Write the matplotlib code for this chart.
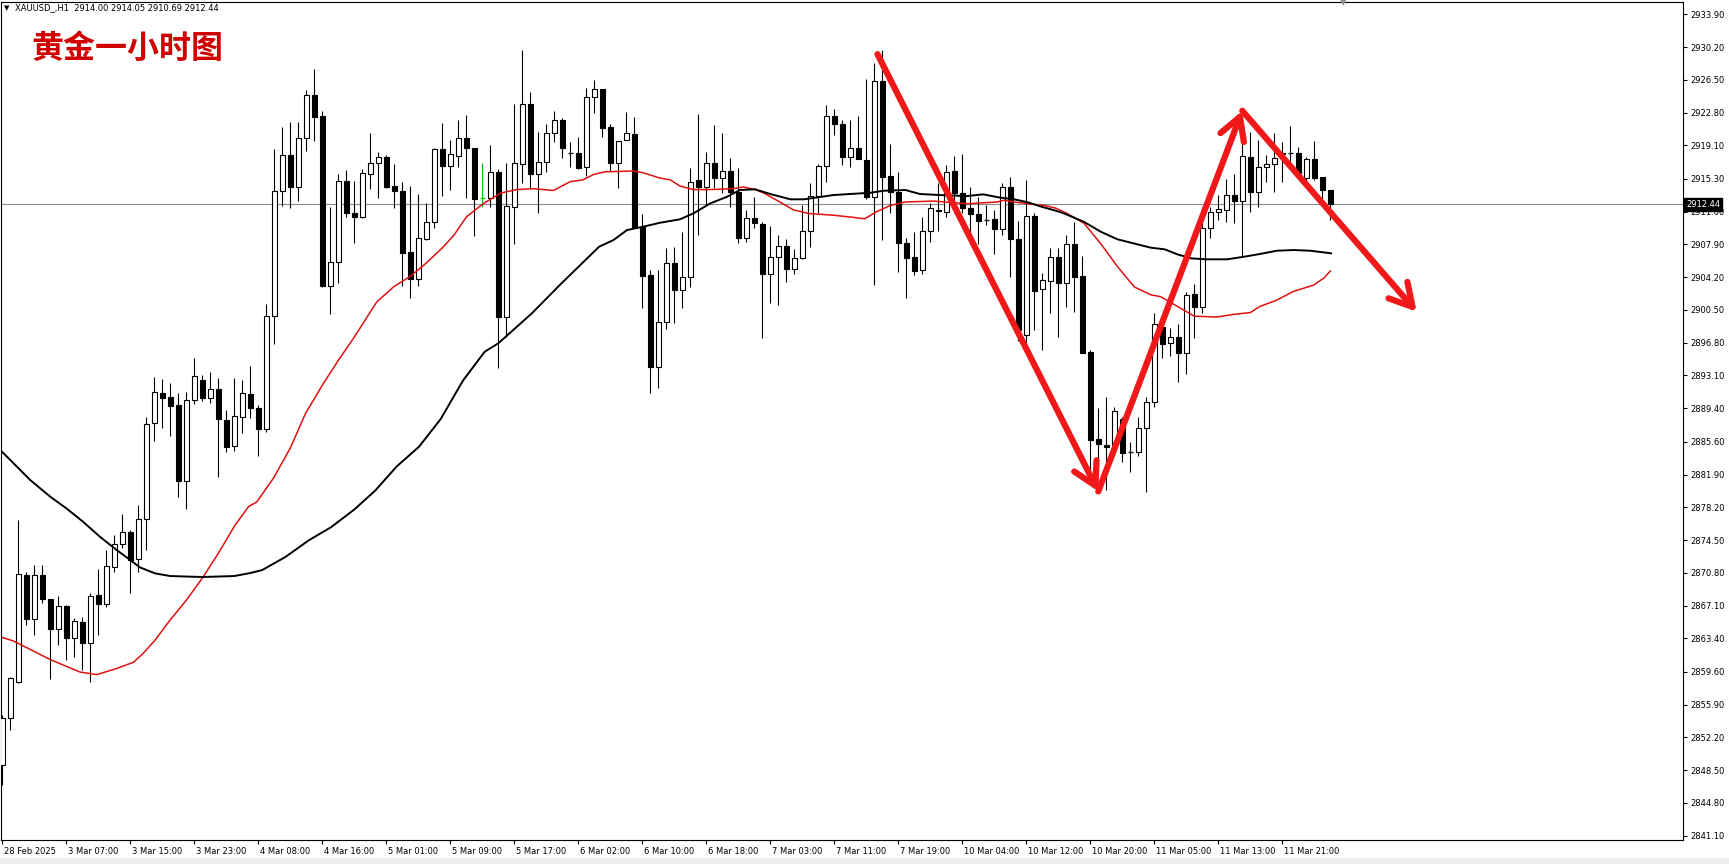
import numpy as np
import matplotlib
matplotlib.use("Agg")
import matplotlib.pyplot as plt
from matplotlib.patches import Rectangle
import matplotlib.transforms as mtransforms

# ---------------- data ----------------
open_px = [
    2849.09, 2854.37, 2858.51, 2870.56, 2865.55, 2870.56, 2867.85, 2864.42, 2867.05, 2863.48,
    2865.21, 2862.91, 2868.30, 2867.28, 2871.50, 2874.02, 2875.38, 2872.33, 2876.85, 2887.69,
    2891.08, 2890.63, 2889.76, 2881.21, 2890.32, 2892.58, 2890.51, 2891.57, 2888.07, 2885.13,
    2888.37, 2891.00, 2889.46, 2887.01, 2899.81, 2913.94, 2918.00, 2914.42, 2919.89, 2924.79,
    2922.41, 2903.25, 2905.88, 2915.07, 2911.42, 2911.04, 2915.82, 2917.07, 2917.82, 2914.50,
    2913.94, 2907.09, 2903.96, 2908.51, 2910.40, 2918.69, 2916.80, 2917.93, 2919.89, 2918.84,
    2913.11, 2913.11, 2916.05, 2899.75, 2912.17, 2917.00, 2923.73, 2915.82, 2917.26, 2920.46,
    2921.96, 2918.20, 2918.20, 2916.62, 2924.52, 2925.43, 2921.13, 2917.07, 2919.70, 2920.38,
    2909.91, 2904.45, 2894.02, 2899.10, 2905.77, 2902.76, 2904.19, 2915.18, 2914.36, 2917.07,
    2915.37, 2916.20, 2913.87, 2908.59, 2910.85, 2910.21, 2904.53, 2906.52, 2907.77, 2905.09,
    2906.34, 2909.46, 2913.41, 2916.77, 2922.45, 2921.47, 2917.82, 2918.76, 2917.44, 2913.23,
    2926.41, 2915.63, 2913.87, 2908.03, 2906.45, 2904.98, 2909.46, 2911.68, 2911.61, 2916.20,
    2913.68, 2911.98, 2911.34, 2910.67, 2910.74, 2909.61, 2914.43, 2908.48, 2897.67, 2911.12,
    2902.83, 2903.81, 2906.52, 2903.51, 2907.91, 2904.34, 2895.78, 2885.88, 2885.24, 2885.24,
    2888.14, 2884.42, 2884.42, 2887.13, 2890.14, 2898.61, 2896.73, 2897.48, 2895.60, 2902.27,
    2900.87, 2909.72, 2911.61, 2911.79, 2913.49, 2912.85, 2917.82, 2913.86, 2916.69, 2916.95,
    2918.20, 2918.27, 2918.27, 2915.37, 2917.52, 2915.48, 2914.00,
]
high_px = [
    2854.74, 2859.07, 2876.77, 2870.93, 2871.69, 2871.69, 2867.85, 2868.19, 2867.20, 2865.74,
    2865.85, 2868.56, 2871.20, 2873.38, 2875.08, 2877.45, 2875.64, 2878.50, 2888.40, 2892.89,
    2892.70, 2892.28, 2891.08, 2891.19, 2895.03, 2893.15, 2893.53, 2892.77, 2889.19, 2892.77,
    2892.58, 2894.17, 2889.76, 2901.17, 2918.68, 2921.20, 2921.77, 2921.77, 2925.35, 2927.72,
    2922.98, 2912.17, 2915.82, 2916.31, 2915.07, 2916.39, 2920.53, 2918.31, 2918.00, 2916.95,
    2914.92, 2914.54, 2913.57, 2912.55, 2918.76, 2921.59, 2919.70, 2921.96, 2922.53, 2918.84,
    2917.07, 2919.14, 2916.39, 2917.07, 2923.77, 2929.87, 2925.16, 2920.57, 2921.47, 2922.98,
    2922.23, 2919.51, 2920.08, 2925.54, 2926.48, 2925.43, 2921.47, 2919.59, 2922.83, 2922.26,
    2911.31, 2905.02, 2905.02, 2907.46, 2907.58, 2909.35, 2916.50, 2922.64, 2918.31, 2921.40,
    2920.46, 2917.63, 2916.50, 2911.79, 2913.30, 2910.40, 2909.99, 2908.97, 2908.52, 2907.35,
    2912.36, 2914.81, 2916.99, 2923.66, 2923.21, 2921.96, 2921.96, 2922.45, 2926.56, 2928.40,
    2929.87, 2919.21, 2916.13, 2908.59, 2909.35, 2910.97, 2912.55, 2914.81, 2916.88, 2917.90,
    2918.08, 2914.43, 2913.30, 2912.36, 2911.80, 2914.81, 2915.56, 2910.55, 2915.18, 2911.42,
    2904.64, 2907.47, 2907.46, 2908.97, 2910.47, 2906.63, 2895.98, 2889.39, 2890.70, 2889.50,
    2888.44, 2885.62, 2888.37, 2890.63, 2900.19, 2898.80, 2898.42, 2898.88, 2902.57, 2903.43,
    2912.10, 2912.17, 2913.49, 2915.30, 2915.86, 2920.40, 2920.64, 2919.70, 2918.01, 2920.45,
    2919.51, 2921.28, 2918.87, 2917.82, 2919.59, 2915.48, 2914.05,
]
low_px = [
    2846.80, 2853.05, 2858.32, 2864.91, 2863.78, 2867.43, 2858.81, 2862.65, 2860.96, 2861.33,
    2859.83, 2858.51, 2863.78, 2866.98, 2870.93, 2873.57, 2868.49, 2870.93, 2873.38, 2885.73,
    2887.12, 2886.30, 2879.41, 2878.01, 2889.87, 2890.21, 2889.95, 2881.66, 2884.49, 2884.60,
    2886.56, 2888.25, 2884.04, 2886.75, 2896.61, 2912.28, 2911.98, 2912.81, 2918.50, 2919.63,
    2903.13, 2900.05, 2903.59, 2910.97, 2908.10, 2910.93, 2914.17, 2913.19, 2914.24, 2912.06,
    2903.21, 2901.89, 2903.21, 2908.40, 2909.80, 2913.41, 2914.05, 2916.69, 2913.11, 2908.90,
    2912.17, 2912.17, 2893.91, 2897.49, 2907.95, 2914.88, 2914.13, 2911.42, 2916.13, 2919.44,
    2917.71, 2916.69, 2916.43, 2915.64, 2922.79, 2920.00, 2916.20, 2914.24, 2919.70, 2909.91,
    2900.69, 2891.08, 2891.72, 2898.31, 2898.99, 2900.69, 2903.13, 2908.97, 2912.36, 2914.24,
    2913.68, 2912.17, 2908.10, 2908.22, 2909.72, 2897.30, 2901.25, 2901.06, 2903.70, 2904.53,
    2906.26, 2907.65, 2911.42, 2915.00, 2920.27, 2916.88, 2916.69, 2917.52, 2913.00, 2903.32,
    2908.41, 2911.49, 2904.83, 2901.82, 2904.45, 2904.53, 2908.22, 2909.46, 2911.04, 2911.42,
    2911.42, 2909.23, 2907.95, 2910.10, 2906.79, 2908.97, 2904.26, 2897.00, 2896.54, 2898.24,
    2895.98, 2900.12, 2897.48, 2900.87, 2900.31, 2895.60, 2881.40, 2881.60, 2880.16, 2884.00,
    2883.36, 2882.16, 2884.00, 2879.97, 2889.50, 2895.03, 2895.34, 2892.40, 2893.23, 2897.29,
    2900.12, 2908.59, 2910.66, 2910.48, 2910.29, 2906.60, 2911.61, 2912.17, 2914.99, 2913.86,
    2914.99, 2917.25, 2915.86, 2914.99, 2915.18, 2912.92, 2910.69,
]
close_px = [
    2854.37, 2858.88, 2870.63, 2865.55, 2870.56, 2867.81, 2864.42, 2867.09, 2863.48, 2865.36,
    2862.84, 2868.22, 2867.28, 2871.57, 2874.02, 2875.38, 2872.25, 2876.85, 2887.60, 2891.19,
    2890.59, 2889.69, 2881.21, 2890.32, 2893.07, 2890.51, 2891.57, 2888.14, 2885.05, 2888.52,
    2891.08, 2889.38, 2887.01, 2899.81, 2913.94, 2918.00, 2914.42, 2919.88, 2924.79, 2922.34,
    2903.21, 2905.88, 2915.07, 2911.42, 2911.04, 2915.94, 2917.07, 2917.74, 2914.43, 2913.98,
    2906.90, 2903.96, 2908.59, 2910.40, 2918.69, 2916.80, 2918.08, 2919.89, 2918.76, 2913.04,
    2913.11, 2916.05, 2899.75, 2912.28, 2917.07, 2923.73, 2915.82, 2917.26, 2920.46, 2921.96,
    2918.76, 2918.20, 2916.50, 2924.52, 2925.43, 2921.10, 2917.14, 2919.59, 2920.46, 2909.91,
    2904.38, 2894.02, 2899.10, 2905.77, 2902.76, 2904.26, 2915.00, 2914.36, 2917.07, 2915.37,
    2916.20, 2913.87, 2908.59, 2910.85, 2910.29, 2904.53, 2906.52, 2907.77, 2905.09, 2906.34,
    2909.46, 2913.41, 2916.77, 2922.45, 2921.47, 2917.82, 2918.76, 2917.52, 2913.30, 2926.41,
    2915.56, 2913.87, 2908.03, 2906.34, 2904.94, 2909.46, 2911.98, 2911.75, 2916.13, 2913.68,
    2911.98, 2911.34, 2910.59, 2910.67, 2909.61, 2914.43, 2908.48, 2898.24, 2911.12, 2902.68,
    2903.89, 2906.45, 2903.51, 2907.91, 2904.26, 2895.67, 2885.81, 2885.36, 2885.00, 2889.12,
    2884.38, 2884.42, 2887.13, 2890.14, 2898.88, 2896.62, 2897.48, 2895.60, 2902.19, 2900.80,
    2909.72, 2911.61, 2911.91, 2913.49, 2912.85, 2917.89, 2913.86, 2916.61, 2916.99, 2917.71,
    2918.12, 2918.27, 2915.94, 2917.52, 2915.45, 2914.05, 2912.44,
]
green_doji_bars = [60]

# moving averages (bar index, price)
red_ma_x = [0, 1.4, 6, 9.7, 11.8, 14.3, 16.4, 17.6, 19.1, 21, 23, 25, 27, 29.1, 30.8, 31.8,
            33.9, 36, 37.9, 40, 42, 43.9, 46.8, 48.9, 51, 53, 55.1, 56.5, 58, 60.1, 62.3,
            64.3, 66.4, 68.9, 71, 72.6, 73.9, 75.3, 78.9, 80.1, 82.2, 83.5, 84.7, 86.4, 88.5,
            91.4, 92.6, 94.1, 95.2, 97.2, 98.9, 100.8, 103.9, 106, 107.8, 109.3, 111, 112.9,
            116.4, 120.6, 124.4, 125.2, 126.5, 128.2, 130.3, 131.7, 133.1, 135.2, 137.3, 139.4,
            141.5, 143.6, 144.8, 146.9, 149, 151.8, 153.9, 156, 157.2, 159.3, 161.4, 163.9,
            165.2, 166]
red_ma_y = [2863.5, 2863.1, 2861.0, 2859.6, 2859.3, 2860.0, 2860.7, 2861.7, 2863.2, 2865.5,
            2867.7, 2870.2, 2873.0, 2876.2, 2878.3, 2878.8, 2881.5, 2884.9, 2888.8, 2892.0,
            2894.8, 2897.3, 2901.4, 2903.1, 2904.3, 2905.8, 2907.6, 2909.0, 2911.0, 2912.5,
            2913.7, 2914.1, 2914.2, 2914.0, 2915.0, 2915.2, 2915.8, 2916.1, 2916.2, 2916.0,
            2915.4, 2915.2, 2914.5, 2914.1, 2914.1, 2914.2, 2914.4, 2914.1, 2913.7, 2912.7,
            2911.8, 2911.4, 2911.2, 2911.0, 2910.8, 2911.6, 2912.3, 2912.7, 2912.8, 2912.5,
            2912.7, 2912.9, 2912.7, 2912.5, 2912.3, 2912.0, 2911.4, 2910.3, 2908.0, 2905.4,
            2903.1, 2902.2, 2902.0, 2900.9, 2899.8, 2899.7, 2900.0, 2900.2, 2900.9, 2901.6,
            2902.6, 2903.3, 2904.1, 2904.9]
black_ma_x = [0, 2, 3.5, 6, 8, 10.1, 12.2, 14.3, 16, 17.2, 19.1, 21, 25, 29, 31, 32.5, 35.4,
              38.3, 41.1, 44, 46.6, 49.3, 52.1, 54.8, 57.6, 60.3, 62, 66.2, 69.9, 74.6, 76.4,
              78.1, 80.1, 82.2, 84.7, 86.4, 88.5, 90.6, 92.2, 94.1, 96, 98.5, 100.2, 103.9, 106,
              108.5, 110.2, 112.9, 114.7, 117.2, 120.6, 122.6, 124.8, 126.5, 128.2, 129.9, 131.7,
              132.7, 135.2, 137.3, 139.4, 141.9, 143.6, 145.3, 146.9, 148.6, 150.5, 153.1, 155.2,
              157.2, 159.3, 161.4, 163.5, 166.1]
black_ma_y = [2884.45, 2882.64, 2881.28, 2879.40, 2878.09, 2876.57, 2874.88, 2873.38, 2872.25,
              2871.42, 2870.74, 2870.44, 2870.33, 2870.44, 2870.78, 2871.12, 2872.60, 2874.47,
              2875.96, 2877.96, 2880.08, 2882.82, 2885.06, 2888.18, 2892.54, 2895.78, 2896.73,
              2900.12, 2903.51, 2907.64, 2908.40, 2909.53, 2909.90, 2910.35, 2910.74, 2911.41,
              2912.54, 2913.29, 2914.05, 2914.13, 2913.60, 2913.00, 2913.00, 2913.48, 2913.60,
              2913.74, 2913.97, 2914.05, 2913.60, 2913.48, 2913.37, 2913.56, 2913.18, 2913.00,
              2912.66, 2912.16, 2911.71, 2911.41, 2910.46, 2909.34, 2908.48, 2907.91, 2907.53,
              2907.35, 2906.78, 2906.33, 2906.22, 2906.22, 2906.51, 2906.82, 2907.19, 2907.27,
              2907.19, 2906.90]

# hand-drawn red arrows (zig-zag): bar index, price
arrow_x = [109.4, 137.0, 155.0, 176.8]
arrow_y = [2929.4, 2880.0, 2923.0, 2900.3]

x_tick_bars = [0, 8, 16, 24, 32, 40, 48, 56, 64, 72, 80, 88, 96, 104, 112, 120, 128, 136, 144, 152, 160]
x_tick_labels = ["28 Feb 2025", "3 Mar 07:00", "3 Mar 15:00", "3 Mar 23:00", "4 Mar 08:00",
                 "4 Mar 16:00", "5 Mar 01:00", "5 Mar 09:00", "5 Mar 17:00", "6 Mar 02:00",
                 "6 Mar 10:00", "6 Mar 18:00", "7 Mar 03:00", "7 Mar 11:00", "7 Mar 19:00",
                 "10 Mar 04:00", "10 Mar 12:00", "10 Mar 20:00", "11 Mar 05:00", "11 Mar 13:00",
                 "11 Mar 21:00"]
y_tick_values = [2933.90, 2930.20, 2926.50, 2922.80, 2919.10, 2915.30, 2911.60, 2907.90, 2904.20,
                 2900.50, 2896.80, 2893.10, 2889.40, 2885.60, 2881.90, 2878.20, 2874.50, 2870.80,
                 2867.10, 2863.40, 2859.60, 2855.90, 2852.20, 2848.50, 2844.80, 2841.10]
last_price = 2912.44
header_text = "XAUUSD_,H1  2914.00 2914.05 2910.69 2912.44"
title_text = "黄金一小时图"

# ---------------- figure ----------------
W, H = 1729, 864
fig = plt.figure(figsize=(W / 100, H / 100), dpi=100)
fig.patch.set_facecolor("white")
ax = fig.add_axes([1 / W, 24 / H, 1682 / W, 838 / H])
ax.set_facecolor("white")
ax.set_xlim(-0.1625, 210.09)
ax.set_ylim(2840.62, 2935.29)

o = np.array(open_px); h = np.array(high_px); l = np.array(low_px); c = np.array(close_px)
idx = np.arange(len(o))
wick_colors = ["#00c000" if i in green_doji_bars else "black" for i in idx]
ax.vlines(idx, l, h, colors=wick_colors, lw=0.8, zorder=2)
bw = 0.62
up = c > o
dn = c < o
eq = c == o
ax.bar(idx[up], c[up] - o[up], bottom=o[up], width=bw, facecolor="white",
       edgecolor="black", lw=0.8, zorder=3)
ax.bar(idx[dn], o[dn] - c[dn], bottom=c[dn], width=bw, facecolor="black",
       edgecolor="black", lw=0.8, zorder=3)
ax.hlines(o[eq], idx[eq] - bw / 2, idx[eq] + bw / 2,
          colors=[wick_colors[i] for i in idx[eq]], lw=0.9, zorder=3)

ax.axhline(last_price, color="#8c8c8c", lw=0.8, zorder=1)
ax.plot(red_ma_x, red_ma_y, color="#e01010", lw=1.1, zorder=4)
ax.plot(black_ma_x, black_ma_y, color="black", lw=1.4, zorder=4)

for i in range(3):
    ax.annotate("", xy=(arrow_x[i + 1], arrow_y[i + 1]), xytext=(arrow_x[i], arrow_y[i]),
                arrowprops=dict(arrowstyle="->,head_length=1.6,head_width=0.9",
                                color="#f01818", lw=4.5, shrinkA=0, shrinkB=0,
                                mutation_scale=10),
                zorder=6)

# axes styling
for s in ax.spines.values():
    s.set_color("black")
    s.set_linewidth(0.8)
ax.yaxis.tick_right()
ax.set_yticks(y_tick_values)
ax.set_yticklabels([f"{v:.2f}" for v in y_tick_values])
ax.tick_params(axis="y", direction="out", length=3, width=0.8, pad=2, labelsize=6,
               colors="black")
ax.set_xticks(x_tick_bars)
ax.set_xticklabels([])
ax.tick_params(axis="x", direction="out", length=3, width=0.8)
xtrans = ax.get_xaxis_transform()
for b, lab in zip(x_tick_bars, x_tick_labels):
    ax.text(b + 0.25, -12 / 838, lab, transform=xtrans, fontsize=6, ha="left",
            va="center", color="black", clip_on=False)

# current price tag on the price scale
tag_trans = mtransforms.blended_transform_factory(ax.transAxes, ax.transData)
ax.text(1.0 + 3 / 1682, last_price, "2912.44", transform=tag_trans, fontsize=6,
        color="white", ha="left", va="center", zorder=10, clip_on=False,
        bbox=dict(boxstyle="square,pad=0.25", facecolor="black", edgecolor="black"))

# header & title
fig.text(4 / W, 1 - 8 / H, "▼", fontsize=5, color="black", ha="left", va="center")
fig.text(15 / W, 1 - 8 / H, header_text, fontsize=6, color="black", ha="left", va="center")
fig.text(1343 / W, 1 - 3 / H, "▼", fontsize=6, color="#909090", ha="center", va="center")
fig.text(31 / W, 1 - 48.5 / H, title_text, fontsize=23, weight="bold", color="#d00000",
         ha="left", va="center", family=["Noto Sans CJK SC", "DejaVu Sans"])

fig.patches.append(Rectangle((0, 0), 1, 6 / H, transform=fig.transFigure,
                             facecolor="#efefef", edgecolor="none", zorder=0))

fig.savefig("out.png", dpi=100, facecolor="white")
